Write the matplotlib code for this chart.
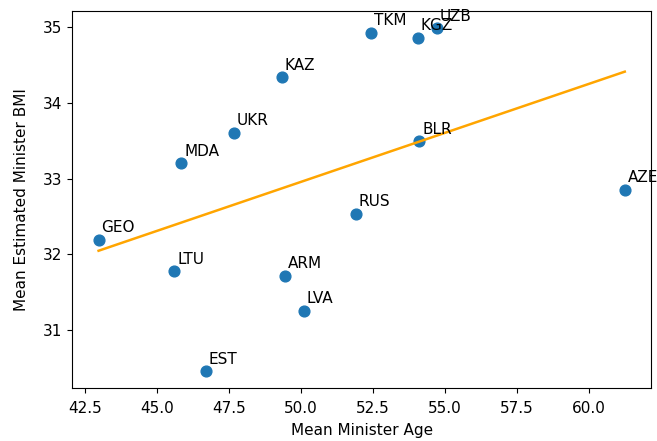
import numpy as np
import matplotlib.pyplot as plt

# Mean minister age vs. mean estimated BMI per country
countries = ["GEO", "LTU", "MDA", "UKR", "KAZ", "ARM", "LVA", "EST",
             "TKM", "KGZ", "UZB", "BLR", "RUS", "AZE"]
mean_age = [42.96, 45.59, 45.83, 47.65, 49.33, 49.44, 50.10, 46.69,
            52.43, 54.05, 54.71, 54.11, 51.90, 61.25]
mean_bmi = [32.19, 31.77, 33.20, 33.605, 34.34, 31.71, 31.25, 30.45,
            34.93, 34.86, 34.99, 33.49, 32.535, 32.85]

plt.rcParams['font.size'] = 11

fig = plt.figure(figsize=(6.57, 4.41), dpi=100)
ax = fig.add_axes([0.110, 0.1195, 0.881, 0.8555])

ax.scatter(mean_age, mean_bmi, s=60, color='tab:blue', zorder=2)

# least squares trend line
x = np.array(mean_age)
y = np.array(mean_bmi)
slope, intercept = np.polyfit(x, y, 1)
xs = np.sort(x)
ax.plot(xs, slope * xs + intercept, color='orange', linewidth=1.8, zorder=3)

for code, a, b in zip(countries, mean_age, mean_bmi):
    ax.text(a + 0.1, b + 0.1, code)

ax.tick_params(axis='x', pad=6)
ax.set_xlabel("Mean Minister Age", labelpad=5)
ax.set_ylabel("Mean Estimated Minister BMI", labelpad=10)

fig.savefig("out.png", dpi=100)
